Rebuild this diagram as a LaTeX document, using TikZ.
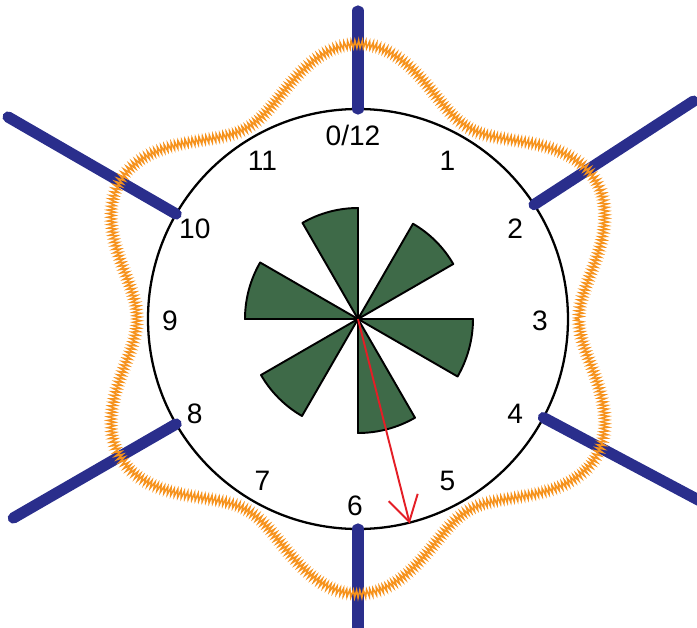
\documentclass[tikz,border=0pt]{standalone}
\usepackage{fontspec}
\setmainfont{Liberation Sans}
\usetikzlibrary{arrows.meta,decorations.pathmorphing}
\definecolor{spokeblue}{RGB}{42,46,140}
\definecolor{wedgegreen}{RGB}{62,106,72}
\definecolor{waveorange}{RGB}{246,146,28}
\definecolor{pointerred}{RGB}{228,30,38}
\tikzset{
  dialring/.style={draw=black,line width=1.3pt},
  spokebar/.style={draw=spokeblue,line width=6.4pt,line cap=round},
  wedgefill/.style={fill=wedgegreen,draw=black,line width=1.1pt,line join=round},
  wavyline/.style={draw=waveorange,line width=0.85pt,decorate,
    decoration={zigzag,segment length=2pt,amplitude=2.2pt}},
  pointerarrow/.style={-{Straight Barb[length=5mm,width=6mm]},draw=pointerred,line width=1.1pt},
  hourlabel/.style={font=\fontsize{16}{18}\selectfont,inner sep=0pt}
}
\begin{document}
\begin{tikzpicture}[x=0.02cm,y=0.02cm]
  \useasboundingbox (-358,-308) rectangle (339,319);
  \clip (-358,-308) rectangle (339,319);
  \coordinate (hub) at (0,0);
  % dial
  \draw[dialring] (hub) circle[radius=210];
  % spokes
  \foreach \ang/\len [count=\i] in {90/308,33/400,-28/400,-90/330,210/398,150/404}{
    \coordinate (spokein\i) at (\ang:210);
    \coordinate (spokeout\i) at (\ang:\len);
    \draw[spokebar] (spokein\i) -- (spokeout\i);
  }
  % wedges
  \foreach \ang/\rad in {30/110,90/111,150/113,210/112,270/114,330/115}{
    \draw[wedgefill] (hub) -- (\ang:\rad) arc[start angle=\ang,end angle=\ang+30,radius=\rad] -- cycle;
  }
  % wave
  \draw[wavyline] plot[domain=0:360,samples=361] (\x:{248-27*cos(6*\x)});
  % hours
  \node[hourlabel] (hzero) at (-5,184) {0/12};
  \foreach \h in {1,...,11}
    \node[hourlabel] (h\h) at ({-3+185*cos(90-30*\h)},{-2+185*sin(90-30*\h)}) {\h};
  % pointer
  \coordinate (tip) at (-75.8:211);
  \draw[pointerarrow] (hub) -- (tip);
\end{tikzpicture}
\end{document}
